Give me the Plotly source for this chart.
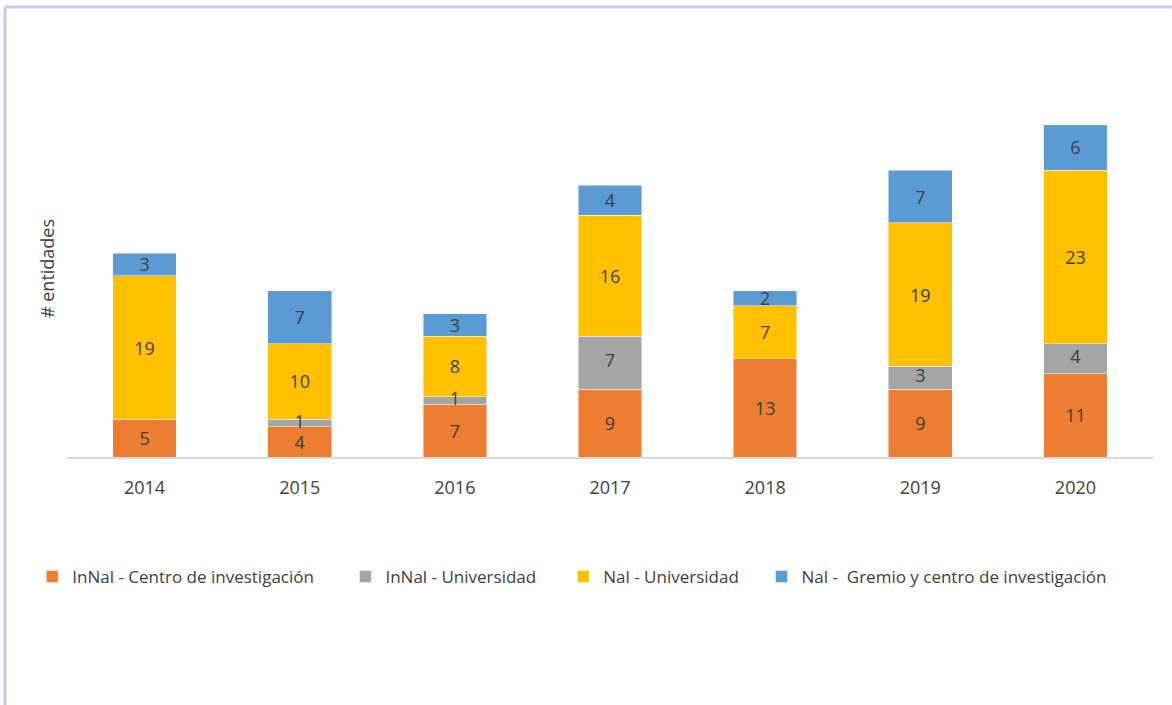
import plotly.graph_objects as go

# data
years = ["2014", "2015", "2016", "2017", "2018", "2019", "2020"]
centro_inv = [5, 4, 7, 9, 13, 9, 11]
innal_univ = [None, 1, 1, 7, None, 3, 4]
nal_univ = [19, 10, 8, 16, 7, 19, 23]
nal_gremio = [3, 7, 3, 4, 2, 7, 6]

# (legend name, values, colour, trailing nbsp padding for legend spacing)
series = [
    ("InNal - Centro de investigación", centro_inv, "#ED7D31", 6),
    ("InNal - Universidad", innal_univ, "#A5A5A5", 5),
    ("Nal - Universidad", nal_univ, "#FFC000", 4),
    ("Nal -  Gremio y centro de investigación", nal_gremio, "#5B9BD5", 0),
]

font_family = "Open Sans, Lato, sans-serif"
text_col = "#404040"
fsize = 18

fig = go.Figure()
for name, vals, col, pad in series:
    is_gray = vals is innal_univ
    fig.add_trace(go.Bar(
        x=years, y=vals, name=name + "\u00a0" * pad,
        marker=dict(color=col, line=dict(color="rgba(255,255,255,0.6)", width=0.8)),
        # the thin gray slices get their labels from a text layer on top
        texttemplate="" if is_gray else "%{y}",
        textposition="inside", insidetextanchor="middle",
        constraintext="none", textangle=0,
        textfont=dict(color=text_col, size=fsize, family=font_family),
        hoverinfo="skip",
    ))

# labels for the gray slices, drawn above the stacked bars
gx, gy, gt = [], [], []
for yr, base, v in zip(years, centro_inv, innal_univ):
    if v:
        gx.append(yr)
        gy.append(base + v / 2)
        gt.append(str(v))
fig.add_trace(go.Scatter(
    x=gx, y=gy, text=gt, mode="text", showlegend=False, hoverinfo="skip",
    textfont=dict(color=text_col, size=fsize, family=font_family),
))

fig.update_layout(
    width=1172, height=705,
    barmode="stack", bargap=0.59,
    plot_bgcolor="white", paper_bgcolor="white",
    margin=dict(l=67, r=19, t=80, b=248, autoexpand=False),
    font=dict(family=font_family, size=fsize, color=text_col),
    xaxis=dict(
        showline=True, linecolor="#D9D9D9", linewidth=1.5,
        showgrid=False, ticks="", ticklabelstandoff=14,
        tickfont=dict(size=fsize, color="#404040"),
    ),
    yaxis=dict(
        range=[0, 49.93], showgrid=False, zeroline=False,
        showticklabels=False, ticks="",
        title=dict(text="# entidades", standoff=6,
                   font=dict(size=fsize, color=text_col)),
    ),
    legend=dict(
        orientation="h", x=-0.032, y=-0.318, xanchor="left", yanchor="middle",
        font=dict(size=17, color=text_col), itemwidth=30,
        traceorder="normal",
    ),
    showlegend=True,
    shapes=[
        dict(type="line", xref="paper", yref="paper",
             x0=-0.0571, x1=1.02, y0=1.1936, y1=1.1936,
             line=dict(color="#C5CBEA", width=3)),
        dict(type="line", xref="paper", yref="paper",
             x0=-0.0571, x1=-0.0571, y0=1.1936, y1=-0.7,
             line=dict(color="#C5CBEA", width=3)),
    ],
)

fig.write_html("out.html", config={"displayModeBar": False},
               post_script="document.body.style.margin='0';")
